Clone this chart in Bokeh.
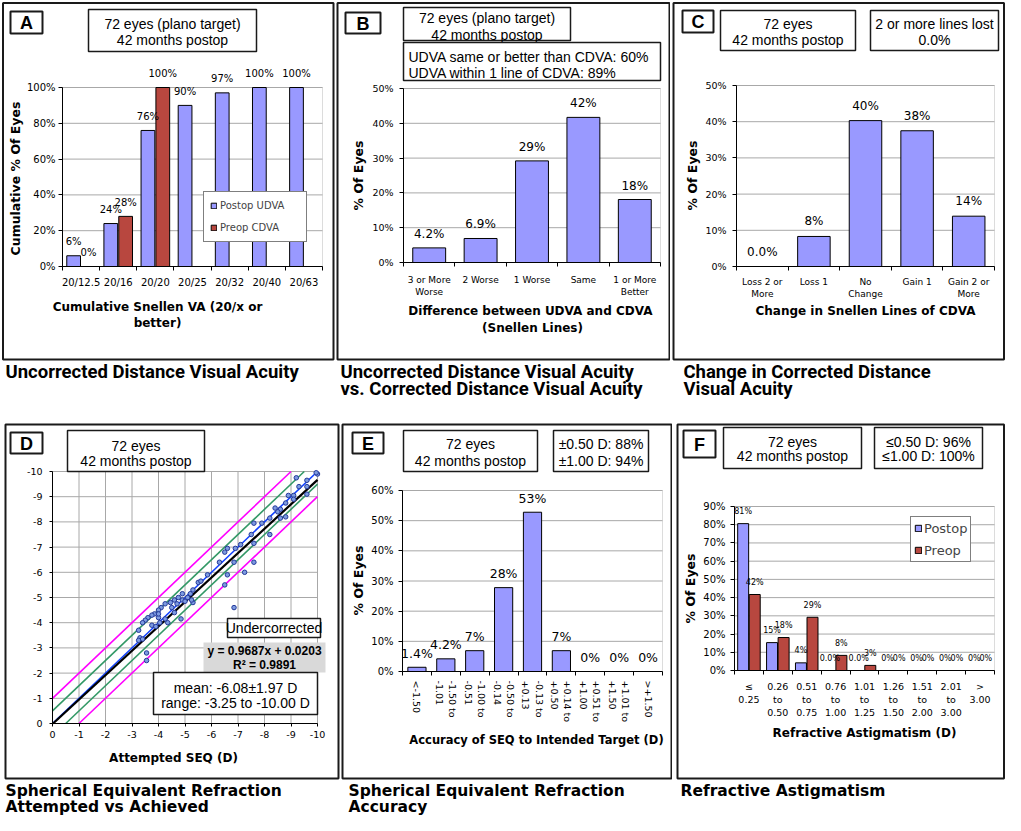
import math
from bokeh.plotting import figure
from bokeh.layouts import column, row
from bokeh.models import (Range1d, FixedTicker, PrintfTickFormatter,
                          Label, LabelSet, BoxAnnotation, Legend, LegendItem, ColumnDataSource)
from bokeh.core.properties import value
from bokeh.embed import file_html
from bokeh.resources import INLINE

# ---------------- data ----------------
a_cats = ["20/12.5", "20/16", "20/20", "20/25", "20/32", "20/40", "20/63"]
a_postop = [6, 24, 76, 90, 97, 100, 100]
a_preop = [0, 28, 100, float("nan"), float("nan"), float("nan"), float("nan")]
a_post_lbl = ["6%", "24%", "76%", "90%", "97%", "100%", "100%"]
a_pre_lbl = ["0%", "28%", "100%", "", "", "", ""]

b_cats = ["3 or More\nWorse", "2 Worse", "1 Worse", "Same", "1 or More\nBetter"]
b_vals = [4.2, 6.9, 29.2, 41.7, 18.1]
b_lbl = ["4.2%", "6.9%", "29%", "42%", "18%"]

c_cats = ["Loss 2 or\nMore", "Loss 1", "No\nChange", "Gain 1", "Gain 2 or\nMore"]
c_vals = [0.0, 8.3, 40.3, 37.5, 13.9]
c_lbl = ["0.0%", "8%", "40%", "38%", "14%"]

d_attempted = [-10.0, -9.95, -9.6, -9.2, -9.6, -9.3, -9.6, -9.1, -8.9, -9.1,
               -8.8, -8.6, -8.4, -8.5, -8.8, -8.6, -8.2, -8.2, -7.9, -7.6,
               -7.5, -7.6, -7.6, -7.25, -7.1, -6.9, -6.85, -6.6, -6.5, -6.3,
               -6.6, -6.5, -6.85, -5.85, -5.5, -5.6, -5.3, -5.2, -5.1, -5.3,
               -5.25, -4.9, -4.9, -4.75, -4.6, -4.45, -4.85, -4.6, -4.25, -4.1,
               -4.0, -3.85, -4.0, -4.25, -4.35, -3.75, -3.6, -3.5, -3.4, -4.0,
               -4.05, -3.25, -3.3, -3.25, -3.4, -3.55, -3.55, -3.75, -3.9, -4.5,
               -4.7, -5.0]
d_achieved = [-9.9, -9.95, -9.65, -9.75, -9.4, -9.4, -9.1, -9.05, -9.05, -8.9,
              -8.75, -8.5, -8.55, -8.4, -8.2, -8.15, -8.15, -7.5, -7.95, -7.95,
              -7.5, -7.15, -6.4, -6.0, -7.1, -6.95, -6.4, -6.95, -6.8, -6.4,
              -5.9, -5.5, -4.6, -5.9, -5.6, -5.65, -5.3, -5.15, -5.0, -4.8,
              -4.9, -5.15, -4.9, -5.0, -4.9, -4.8, -4.15, -4.4, -4.75, -4.6,
              -4.5, -4.35, -4.2, -4.15, -4.0, -4.3, -4.2, -4.1, -4.0, -4.35,
              -4.0, -3.7, -3.4, -3.3, -3.35, -2.8, -2.5, -3.9, -3.85, -4.6,
              -4.75, -4.85]
d_slope, d_intercept, d_r2 = 0.9687, 0.0203, 0.9891
d_bands = [0.5, 1.0]
d_ticks = list(range(-10, 1))

e_cats = ["<-1.50", "-1.50 to\n-1.01", "-1.00 to\n-0.51", "-0.50 to\n-0.14", "-0.13 to\n+0.13",
          "+0.14 to\n+0.50", "+0.51 to\n+1.00", "+1.01 to\n+1.50", ">+1.50"]
e_vals = [1.4, 4.2, 6.9, 27.8, 52.8, 6.9, 0, 0, 0]
e_lbl = ["1.4%", "4.2%", "7%", "28%", "53%", "7%", "0%", "0%", "0%"]

f_cats = ["\u2264\n0.25", "0.26\nto\n0.50", "0.51\nto\n0.75", "0.76\nto\n1.00", "1.01\nto\n1.25",
          "1.26\nto\n1.50", "1.51\nto\n2.00", "2.01\nto\n3.00", ">\n3.00"]
f_postop = [80.6, 15.3, 4.2, 0, 0, 0, 0, 0, 0]
f_preop = [41.7, 18.1, 29.2, 8.3, 2.8, 0, 0, 0, 0]
f_post_lbl = ["81%", "15%", "4%", "0.0%", "0.0%", "0%", "0%", "0%", "0%"]
f_pre_lbl = ["42%", "18%", "29%", "8%", "3%", "0%", "0%", "0%", "0%"]

# ---------------- style ----------------
VER = "DejaVu Sans"
ARI = "Liberation Sans"
CAP1 = "Roboto"
BLUE = "#9999ff"
RED = "#b8473f"
GRID = "#a8a8a8"
EDGE = "#1a1a1a"
INFO = 14          # info box text size
XT, YT = 12, 12.5  # axis title sizes
CAP1S, CAP2S = 18.5, 15.5
CAP1Y = (371, 388)


class Panel:
    """One figure whose frame is the whole panel; the chart's axes sit at fixed data locations."""

    def __init__(self, W, H, plot, xlim, ylim):
        L, T, R, B = plot
        kx = (xlim[1] - xlim[0]) / (R - L)
        ky = (ylim[1] - ylim[0]) / (B - T)
        xr = Range1d(xlim[0] - L * kx, xlim[1] + (W - R) * kx)
        yr = Range1d(ylim[0] - (H - B) * ky, ylim[1] + T * ky)
        p = figure(width=W, height=H, x_range=xr, y_range=yr, title=None,
                   output_backend="svg", toolbar_location=None,
                   min_border=0, min_border_left=0, min_border_right=0,
                   min_border_top=0, min_border_bottom=0)
        p.outline_line_color = None
        p.background_fill_color = "white"
        p.border_fill_color = "white"
        p.xgrid.visible = False
        p.ygrid.visible = False
        self.p, self.H, self.xlim, self.ylim = p, H, xlim, ylim
        p.add_layout(BoxAnnotation(left=xlim[0], right=xlim[1], bottom=ylim[0], top=ylim[1],
                                   fill_alpha=0, line_color="#8a8a8a", line_width=1,
                                   level="underlay"))
        xa, ya = p.xaxis[0], p.yaxis[0]
        xa.fixed_location = ylim[0]
        ya.fixed_location = xlim[0]
        xa.bounds = (min(xlim), max(xlim))
        ya.bounds = (min(ylim), max(ylim))
        for ax in (xa, ya):
            ax.axis_line_color = "black"
            ax.axis_line_width = 1
            ax.major_label_text_font = VER
            ax.major_label_text_color = "black"
            ax.minor_tick_line_color = None

    def hgrid(self, ticks):
        self.p.segment(x0=self.xlim[0], x1=self.xlim[1], y0=ticks, y1=ticks,
                       line_color=GRID, line_width=1)

    def vgrid(self, ticks):
        self.p.segment(x0=ticks, x1=ticks, y0=self.ylim[0], y1=self.ylim[1],
                       line_color=GRID, line_width=1)

    def box(self, x0, y0, x1, y1, fill="white", line=EDGE, lw=1.5, alpha=1.0, line_alpha=1.0):
        self.p.add_layout(BoxAnnotation(left=x0, right=x1, top=self.H - y0, bottom=self.H - y1,
                                        left_units="screen", right_units="screen",
                                        top_units="screen", bottom_units="screen",
                                        fill_color=fill, fill_alpha=alpha,
                                        line_color=line, line_width=lw, line_alpha=line_alpha))

    def text(self, x, y, s, size, font=ARI, bold=False, align="center", angle=0.0):
        self.p.add_layout(Label(x=x, y=self.H - y, x_units="screen", y_units="screen",
                                text=s, text_font=font, text_font_size=f"{size}px",
                                text_font_style="bold" if bold else "normal",
                                text_align=align, text_baseline="middle", angle=angle,
                                text_color="black"))


def bar_axes(pn, cats, ystep, xfs, yfs, xstand, ystand, orient=None):
    p = pn.p
    n = len(cats)
    ymax = pn.ylim[1]
    centers = [i + 0.5 for i in range(n)]
    yt = list(range(0, int(ymax) + 1, ystep))
    pn.hgrid(yt)
    xa = p.xaxis[0]
    xa.ticker = FixedTicker(ticks=centers, minor_ticks=list(range(n + 1)))
    xa.major_label_overrides = dict(zip(centers, cats))
    xa.major_tick_line_color = None
    xa.major_tick_out = 0
    xa.major_tick_in = 0
    xa.minor_tick_in = 0
    xa.minor_tick_out = 4
    xa.minor_tick_line_color = "black"
    xa.major_label_standoff = xstand
    xa.major_label_text_font_size = f"{xfs}px"
    if orient is not None:
        xa.major_label_orientation = orient
    ya = p.yaxis[0]
    ya.ticker = FixedTicker(ticks=yt)
    ya.formatter = PrintfTickFormatter(format="%d%%")
    ya.major_tick_in = 0
    ya.major_tick_out = 4
    ya.major_label_standoff = ystand
    ya.major_label_text_font_size = f"{yfs}px"
    return centers


def add_labels(p, xs, ys, txt, size, off):
    src = ColumnDataSource(dict(x=xs, y=ys, t=txt))
    p.add_layout(LabelSet(x="x", y="y", text="t", source=src, y_offset=off,
                          text_align="center", text_baseline="middle",
                          text_font=value(VER), text_font_size=value(f"{size}px"),
                          text_color="black"))


def letter_box(pn, x0, y0, x1, y1, s):
    pn.box(x0, y0, x1, y1, lw=2)
    pn.text((x0 + x1) / 2, (y0 + y1) / 2 + 0.5, s, 18, font=ARI, bold=True)


H1, H2 = 400, 415

# ================= Panel A =================
pa = Panel(335, H1, (62, 87, 322, 266), (0, len(a_cats)), (0, 100))
ca = bar_axes(pa, a_cats, 20, 10, 10, 6, 3)
xa_post = [c - 0.2 for c in ca]
xa_pre = [c + 0.2 for c in ca]
r1 = pa.p.vbar(x=xa_post, top=a_postop, width=0.37, fill_color=BLUE, line_color="black", line_width=1)
r2 = pa.p.vbar(x=xa_pre, top=a_preop, width=0.37, fill_color=RED, line_color="black", line_width=1)
add_labels(pa.p, xa_post, a_postop, a_post_lbl, 10, 14)
add_labels(pa.p, xa_pre[:3], a_preop[:3], a_pre_lbl[:3], 10, 14)
pa.p.add_layout(Legend(items=[LegendItem(label="Postop UDVA", renderers=[r1]),
                              LegendItem(label="Preop CDVA", renderers=[r2])],
                       location=(203, H1 - 242), margin=0, padding=6, spacing=7,
                       glyph_width=7, glyph_height=7, label_height=15, label_width=80,
                       label_standoff=3, label_text_font=VER, label_text_font_size="10px",
                       border_line_color="black", border_line_width=1.5,
                       background_fill_color="white", background_fill_alpha=1.0))
pa.box(2.5, 2.5, 333, 359, alpha=0, lw=2)
letter_box(pa, 10, 11, 42, 33, "A")
pa.box(88, 9, 256, 51)
pa.text(172, 23, "72 eyes (plano target)", INFO)
pa.text(172, 39, "42 months postop", INFO)
pa.text(15, 178, "Cumulative % Of Eyes", YT, font=VER, bold=True, angle=math.pi / 2)
pa.text(157, 306, "Cumulative Snellen VA (20/x or", XT, font=VER, bold=True)
pa.text(157, 322, "better)", XT, font=VER, bold=True)
pa.text(5, CAP1Y[0], "Uncorrected Distance Visual Acuity", CAP1S, font=CAP1, bold=True, align="left")

# ================= Panel B =================
pb = Panel(335, H1, (68, 88, 325, 262), (0, len(b_cats)), (0, 50))
cb = bar_axes(pb, b_cats, 10, 9, 9.5, 8, 6)
pb.p.vbar(x=cb, top=b_vals, width=0.64, fill_color=BLUE, line_color="black", line_width=1)
add_labels(pb.p, cb, b_vals, b_lbl, 12, 14)
pb.box(2, 2.5, 334, 359, alpha=0, lw=2)
letter_box(pb, 10, 12, 45, 33, "B")
pb.box(68, 7, 235, 40)
pb.text(151.5, 17, "72 eyes (plano target)", INFO)
pb.text(151.5, 34, "42 months postop", INFO)
pb.box(68, 42, 325, 80)
pb.text(73, 56, "UDVA same or better than CDVA: 60%", INFO, align="left")
pb.text(73, 72, "UDVA within 1 line of CDVA: 89%", INFO, align="left")
pb.text(23, 175, "% Of Eyes", YT, font=VER, bold=True, angle=math.pi / 2)
pb.text(197, 310, "Difference between  UDVA and CDVA", XT, font=VER, bold=True)
pb.text(197, 327, "(Snellen Lines)", XT, font=VER, bold=True)
pb.text(5, CAP1Y[0], "Uncorrected Distance Visual Acuity", CAP1S, font=CAP1, bold=True, align="left")
pb.text(5, CAP1Y[1], "vs. Corrected Distance Visual Acuity", CAP1S, font=CAP1, bold=True, align="left")

# ================= Panel C =================
pc = Panel(335, H1, (66, 85, 324, 266), (0, len(c_cats)), (0, 50))
cc = bar_axes(pc, c_cats, 10, 9, 9.5, 6, 6)
pc.p.vbar(x=cc, top=c_vals, width=0.63, fill_color=BLUE, line_color="black", line_width=1)
add_labels(pc.p, cc, c_vals, c_lbl, 12, 15)
pc.box(3, 2.5, 333.5, 359, alpha=0, lw=2)
letter_box(pc, 12, 10, 43, 32, "C")
pc.box(50, 10, 185, 50)
pc.text(117.5, 23, "72 eyes", INFO)
pc.text(117.5, 39, "42 months postop", INFO)
pc.box(200, 10, 328, 50)
pc.text(264, 23, "2 or more lines lost", INFO)
pc.text(264, 39, "0.0%", INFO)
pc.text(22, 175, "% Of Eyes", YT, font=VER, bold=True, angle=math.pi / 2)
pc.text(195, 310, "Change in Snellen Lines of CDVA", XT, font=VER, bold=True)
pc.text(13, CAP1Y[0], "Change in Corrected Distance", CAP1S, font=CAP1, bold=True, align="left")
pc.text(13, CAP1Y[1], "Visual Acuity", CAP1S, font=CAP1, bold=True, align="left")

# ================= Panel D =================
pd_ = Panel(340, H2, (52, 71, 317, 323), (0, -10), (0, -10))
p = pd_.p
pd_.vgrid(d_ticks)
pd_.hgrid(d_ticks)
for ax in (p.xaxis[0], p.yaxis[0]):
    ax.ticker = FixedTicker(ticks=d_ticks)
    ax.formatter = PrintfTickFormatter(format="%d")
    ax.major_tick_in = 0
    ax.major_tick_out = 3
    ax.major_label_text_font_size = "9.5px"
p.xaxis[0].major_label_standoff = 4
p.yaxis[0].major_label_standoff = 7


def seg_in_square(slope, icpt):
    # part of y = slope*x + icpt that lies inside the plotted square [-10, 0] x [-10, 0]
    lo, hi = min(d_ticks), max(d_ticks)
    xs = sorted([lo, hi, (lo - icpt) / slope, (hi - icpt) / slope])[1:3]
    return xs, [slope * v + icpt for v in xs]


for off, col in zip(d_bands, ["#339966", "#ff00ff"]):
    for sgn in (-1, 1):
        sx_, sy_ = seg_in_square(1.0, sgn * off)
        p.line(sx_, sy_, line_color=col, line_width=1.6)
ix, iy = seg_in_square(1.0, 0.0)
p.line(ix, iy, line_color="#1040ff", line_width=1.6)
rx, ry = seg_in_square(d_slope, d_intercept)
p.line(rx, ry, line_color="black", line_width=2.2)
p.scatter(d_attempted, d_achieved, size=4.5, marker="circle", fill_color="#7d9be0",
          line_color="#24399a", line_width=1)
pd_.box(5, 24, 338, 378, alpha=0, lw=2)
letter_box(pd_, 10, 32, 42, 53, "D")
pd_.box(67, 30, 204, 71)
pd_.text(135.5, 45, "72 eyes", INFO)
pd_.text(135.5, 60, "42 months postop", INFO)
pd_.box(227, 218, 320, 237)
pd_.text(273.5, 227.5, "Undercorrected", INFO)
pd_.box(203, 242, 325, 272, fill="#d9d9d9", line_alpha=0)
pd_.text(264, 250, f"y = {d_slope:.4f}x + {d_intercept:.4f}", 12, bold=True)
pd_.text(264, 264, f"R\u00b2 = {d_r2:.4f}", 12, bold=True)
pd_.box(153, 272, 317, 314)
pd_.text(235, 287, "mean: -6.08\u00b11.97 D", INFO)
pd_.text(235, 302, "range: -3.25 to -10.00 D", INFO)
pd_.text(173, 357, "Attempted SEQ (D)", XT, font=VER, bold=True)
pd_.text(5, 390, "Spherical Equivalent Refraction", CAP2S, font=VER, bold=True, align="left")
pd_.text(5, 406, "Attempted vs Achieved", CAP2S, font=VER, bold=True, align="left")

# ================= Panel E =================
pe = Panel(332, H2, (62, 90, 322, 271), (0, len(e_cats)), (0, 60))
ce = bar_axes(pe, e_cats, 10, 9.5, 10, 5, 5, orient=-math.pi / 2)
pe.p.vbar(x=ce, top=e_vals, width=0.63, fill_color=BLUE, line_color="black", line_width=1)
add_labels(pe.p, ce, e_vals, e_lbl, 12.5, 14)
pe.box(2, 24, 331, 378, alpha=0, lw=2)
letter_box(pe, 12, 32, 43, 53, "E")
pe.box(63, 30, 197, 71)
pe.text(130, 43, "72 eyes", INFO)
pe.text(130, 60, "42 months postop", INFO)
pe.box(213, 30, 308, 71)
pe.text(260.5, 43, "\u00b10.50 D: 88%", INFO)
pe.text(260.5, 60, "\u00b11.00 D: 94%", INFO)
pe.text(18, 180, "% Of Eyes", YT, font=VER, bold=True, angle=math.pi / 2)
pe.text(196, 339, "Accuracy of SEQ to Intended Target (D)", 11.5, font=VER, bold=True)
pe.text(8, 390, "Spherical Equivalent Refraction", CAP2S, font=VER, bold=True, align="left")
pe.text(8, 406, "Accuracy", CAP2S, font=VER, bold=True, align="left")

# ================= Panel F =================
pf = Panel(333, H2, (62, 106, 322, 270), (0, len(f_cats)), (0, 90))
cf = bar_axes(pf, f_cats, 10, 9.5, 10, 6, 5)
xf_post = [c - 0.2 for c in cf]
xf_pre = [c + 0.2 for c in cf]
q1 = pf.p.vbar(x=xf_post, top=f_postop, width=0.38, fill_color=BLUE, line_color="black", line_width=1)
q2 = pf.p.vbar(x=xf_pre, top=f_preop, width=0.38, fill_color=RED, line_color="black", line_width=1)
add_labels(pf.p, xf_post, f_postop, f_post_lbl, 8, 12)
add_labels(pf.p, xf_pre, f_preop, f_pre_lbl, 8, 12)
pf.p.add_layout(Legend(items=[LegendItem(label="Postop", renderers=[q1]),
                              LegendItem(label="Preop", renderers=[q2])],
                       location=(238, H2 - 162), margin=0, padding=3, spacing=6,
                       glyph_width=8, glyph_height=8, label_height=16, label_standoff=2,
                       label_text_font=VER, label_text_font_size="13px",
                       border_line_color="black", border_line_width=1.5,
                       background_fill_color="white", background_fill_alpha=1.0))
pf.box(5, 24, 331.5, 378, alpha=0, lw=2)
letter_box(pf, 11, 30, 43, 57, "F")
pf.box(51, 27, 189, 68)
pf.text(120, 41, "72 eyes", INFO)
pf.text(120, 55, "42 months postop", INFO)
pf.box(202, 27, 310, 68)
pf.text(256, 41, "\u22640.50 D: 96%", INFO)
pf.text(256, 55, "\u22641.00 D: 100%", INFO)
pf.text(18, 188, "% Of Eyes", YT, font=VER, bold=True, angle=math.pi / 2)
pf.text(192, 332, "Refractive Astigmatism (D)", XT, font=VER, bold=True)
pf.text(8, 390, "Refractive Astigmatism", CAP2S, font=VER, bold=True, align="left")

layout = column(row(pa.p, pb.p, pc.p), row(pd_.p, pe.p, pf.p))
open("out.html", "w").write(file_html(layout, INLINE, title="Refractive outcomes"))
